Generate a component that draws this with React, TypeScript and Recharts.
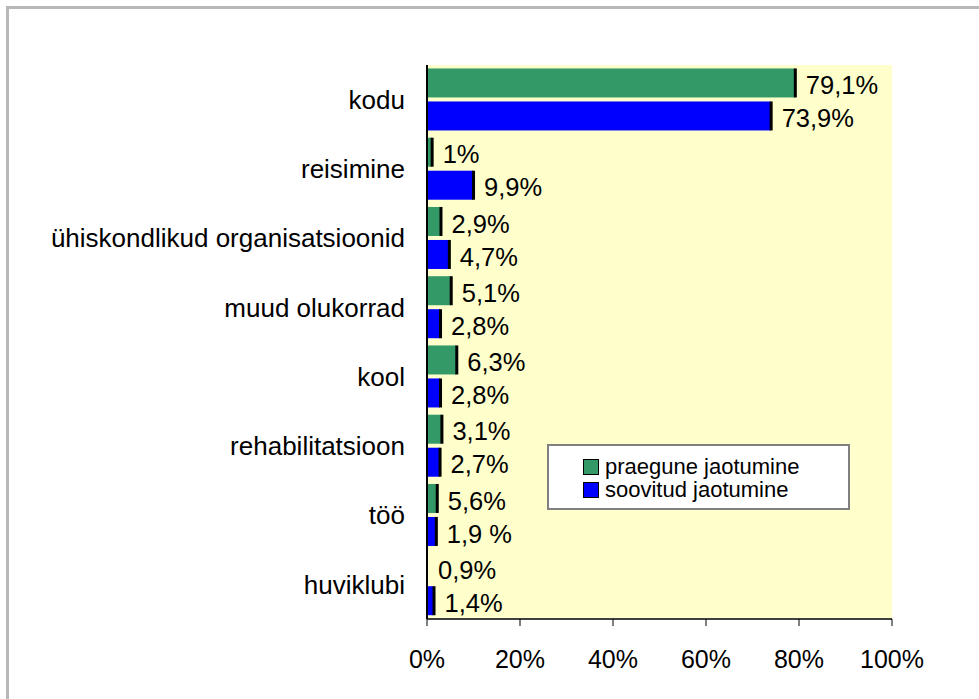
import React from 'react'
import { BarChart, Bar, XAxis, YAxis, CartesianGrid, LabelList } from 'recharts'

const categories = [
  'kodu',
  'reisimine',
  'ühiskondlikud organisatsioonid',
  'muud olukorrad',
  'kool',
  'rehabilitatsioon',
  'töö',
  'huviklubi',
]
const currentValues = [79.1, 1, 2.9, 5.1, 6.3, 3.1, 2.1, 0]
const currentLabels = ['79,1%', '1%', '2,9%', '5,1%', '6,3%', '3,1%', '5,6%', '0,9%']
const desiredValues = [73.9, 9.9, 4.7, 2.8, 2.8, 2.7, 1.9, 1.4]
const desiredLabels = ['73,9%', '9,9%', '4,7%', '2,8%', '2,8%', '2,7%', '1,9 %', '1,4%']
const seriesNames = ['praegune jaotumine', 'soovitud jaotumine']
const xTicks = [0, 20, 40, 60, 80, 100]
const edgeTicks = categories.map((_, i) => i).concat(categories.length)

const GREEN = '#339966'
const BLUE = '#0000ff'
const FONT = "Arial, 'Liberation Sans', sans-serif"

const data = categories.map((name, i) => ({
  name,
  current: currentValues[i],
  currentLabel: currentLabels[i],
  desired: desiredValues[i],
  desiredLabel: desiredLabels[i],
}))

// Excel-style bar: flat fill with a dark edge at the end
function EdgeBar(props: any) {
  const { x, y, width, height, fill } = props
  if (!width || width <= 0) return null
  return (
    <g>
      <rect x={x} y={y} width={width} height={height} fill={fill} />
      <rect x={x + width - 1} y={y} width={3} height={height} fill="#000" />
    </g>
  )
}

function ValueLabel(props: any) {
  const { x, y, width, height, value } = props
  return (
    <text
      x={x + (width || 0) + 11}
      y={y + height / 2 + 2}
      dy="0.36em"
      fontSize={25.5}
      fontFamily={FONT}
      fill="#000"
    >
      {value}
    </text>
  )
}

function LegendBox() {
  const colors = [GREEN, BLUE]
  return (
    <div
      style={{
        position: 'absolute',
        left: 547,
        top: 444,
        width: 303,
        height: 66,
        border: '2px solid #808080',
        background: '#fff',
        fontFamily: FONT,
        fontSize: 22,
        lineHeight: '23px',
        paddingTop: 9,
        boxSizing: 'border-box',
      }}
    >
      {seriesNames.map((s, i) => (
        <div key={s} style={{ display: 'flex', alignItems: 'center', paddingLeft: 34, height: 23 }}>
          <span
            style={{
              width: 14,
              height: 14,
              background: colors[i],
              border: '1px solid #000',
              marginRight: 6,
              display: 'inline-block',
              flex: 'none',
            }}
          />
          <span>{s}</span>
        </div>
      ))}
    </div>
  )
}

export default function App() {
  return (
    <div style={{ position: 'absolute', left: 0, top: 0, width: 979, height: 699, background: '#fff' }}>
      <div
        style={{
          position: 'absolute',
          left: 6,
          top: 6,
          width: 973,
          height: 693,
          borderLeft: '3px solid #b8b8b8',
          borderTop: '3px solid #b8b8b8',
        }}
      />
      <BarChart
        width={979}
        height={699}
        data={data}
        layout="vertical"
        margin={{ top: 65, right: 87, bottom: 0, left: 0 }}
        barCategoryGap="5%"
        barGap={4}
        style={{ position: 'absolute', left: 0, top: 0 }}
      >
        <CartesianGrid
          xAxisId="main"
          yAxisId="cat"
          horizontal={false}
          vertical={false}
          fill="#ffffcc"
          fillOpacity={1}
        />
        <XAxis
          xAxisId="main"
          type="number"
          domain={[0, 100]}
          ticks={xTicks}
          tickFormatter={(v) => `${v}%`}
          height={80}
          tickSize={7}
          tickMargin={24}
          axisLine={{ stroke: '#404040', strokeWidth: 2 }}
          tickLine={{ stroke: '#000' }}
          tick={{ fontSize: 25, fill: '#000', fontFamily: FONT }}
        />
        <XAxis
          xAxisId="top"
          orientation="top"
          type="number"
          domain={[0, 1]}
          height={0}
          tick={false}
          tickLine={false}
          axisLine={{ stroke: '#808080', strokeWidth: 2 }}
        />
        <YAxis
          yAxisId="edge"
          type="number"
          domain={[0, categories.length]}
          ticks={edgeTicks}
          width={0}
          tick={false}
          tickSize={8}
          axisLine={false}
          tickLine={{ stroke: '#808080' }}
        />
        <YAxis
          yAxisId="cat"
          type="category"
          dataKey="name"
          width={427}
          interval={0}
          tickSize={8}
          tickMargin={14}
          tickLine={false}
          axisLine={{ stroke: '#000', strokeWidth: 2 }}
          tick={{ fontSize: 26, fill: '#000', fontFamily: FONT }}
        />
        <YAxis
          yAxisId="right"
          orientation="right"
          type="number"
          domain={[0, 1]}
          width={0}
          tick={false}
          tickLine={false}
          axisLine={{ stroke: '#808080', strokeWidth: 2 }}
        />
        <Bar
          xAxisId="main"
          yAxisId="cat"
          dataKey="current"
          name={seriesNames[0]}
          fill={GREEN}
          shape={<EdgeBar />}
          isAnimationActive={false}
        >
          <LabelList dataKey="currentLabel" content={<ValueLabel />} />
        </Bar>
        <Bar
          xAxisId="main"
          yAxisId="cat"
          dataKey="desired"
          name={seriesNames[1]}
          fill={BLUE}
          shape={<EdgeBar />}
          isAnimationActive={false}
        >
          <LabelList dataKey="desiredLabel" content={<ValueLabel />} />
        </Bar>
      </BarChart>
      <LegendBox />
    </div>
  )
}
